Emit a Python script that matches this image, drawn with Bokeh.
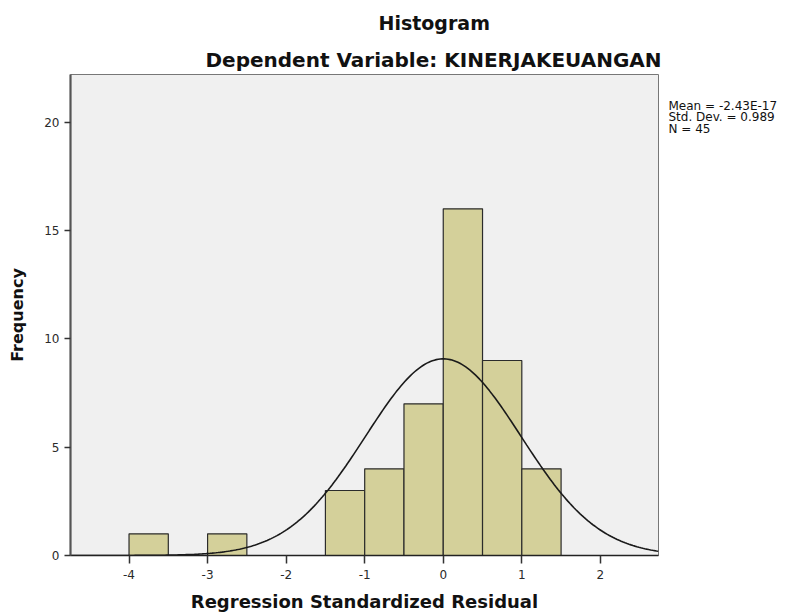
import numpy as np
from bokeh.plotting import figure
from bokeh.layouts import row
from bokeh.models import FixedTicker, Range1d, Title
from bokeh.core.properties import value
from bokeh.embed import file_html
from bokeh.resources import INLINE

# ---- data ----
bin_left = [-4.0, -3.0, -1.5, -1.0, -0.5, 0.0, 0.5, 1.0]
bin_right = [-3.5, -2.5, -1.0, -0.5, 0.0, 0.5, 1.0, 1.5]
counts = [1, 1, 3, 4, 7, 16, 9, 4]
x_ticks = [-4, -3, -2, -1, 0, 1, 2]
x_tick_labels = ["-4", "-3", "-2", "-1", "0", "1", "2"]
y_ticks = [0, 5, 10, 15, 20]
mean_val = -2.43e-17
std_val = 0.989
n_val = 45
bin_width = 0.5
stats = ["Mean = -2.43E-17", "Std. Dev. = 0.989", "N = 45"]

FONT = "DejaVu Sans"
H = 614

p = figure(width=668, height=H, output_backend="svg", toolbar_location=None,
           x_range=Range1d(-4.745, 2.74), y_range=Range1d(0, 22.2),
           min_border_left=70, min_border_right=10, min_border_top=8, min_border_bottom=59)

p.background_fill_color = "#f0f0f0"
p.border_fill_color = "white"
p.outline_line_color = "#777777"
p.outline_line_width = 1
p.grid.visible = False

p.quad(left=bin_left, right=bin_right, bottom=0, top=counts,
       fill_color="#d4d09a", line_color="#2b2b2b", line_width=1.2)

# normal curve from the displayed statistics
xs = np.linspace(-4.745, 2.74, 300)
ys = n_val * bin_width * np.exp(-0.5 * ((xs - mean_val) / std_val) ** 2) / (std_val * np.sqrt(2 * np.pi))
p.line(xs, ys, line_color="#1a1a1a", line_width=1.6)

for ax in (p.xaxis, p.yaxis):
    ax.minor_tick_line_color = None
    ax.major_tick_in = 0
    ax.major_label_text_font = FONT
    ax.major_label_text_font_size = "12px"
    ax.major_label_text_color = "#2a2a2a"
    ax.axis_label_text_font = FONT
    ax.axis_label_text_font_style = "bold"
    ax.axis_label_text_color = "#111111"

p.xaxis.axis_label_text_font_size = "18px"
p.yaxis.axis_label_text_font_size = "16px"
p.xaxis.ticker = FixedTicker(ticks=x_ticks)
p.xaxis.major_label_overrides = {t: s for t, s in zip(x_ticks, x_tick_labels)}
p.yaxis.ticker = FixedTicker(ticks=y_ticks)
p.xaxis.major_tick_out = 8
p.yaxis.major_tick_out = 6
p.xaxis.axis_line_color = "#222222"
p.xaxis.axis_line_width = 1.6
p.yaxis.axis_line_color = "#555555"
p.yaxis.axis_line_width = 2.2
p.xaxis.major_tick_line_color = "#333333"
p.yaxis.major_tick_line_color = "#333333"
p.xaxis.major_tick_line_width = 1.5
p.yaxis.major_tick_line_width = 1.5
p.xaxis.axis_label = "Regression Standardized Residual"
p.yaxis.axis_label = "Frequency"
p.xaxis.major_label_standoff = 6
p.yaxis.major_label_standoff = 5
p.xaxis.axis_label_standoff = 9
p.yaxis.axis_label_standoff = 14

# titles (added above, bottom-most first)
p.add_layout(Title(text="Dependent Variable: KINERJAKEUANGAN", align="left", offset=135,
                   text_font=FONT, text_font_style="bold", text_font_size="20px",
                   text_color="#111111", standoff=6), "above")
p.add_layout(Title(text="Histogram", align="left", offset=308,
                   text_font=FONT, text_font_style="bold", text_font_size="19px",
                   text_color="#111111", standoff=18), "above")

# statistics text in a narrow companion panel on the right
# (its frame is aligned with the main frame, which spans page y 74..555)
p2 = figure(width=120, height=H, output_backend="svg", toolbar_location=None,
            x_range=Range1d(0, 120), y_range=Range1d(555, 74),
            x_axis_type=None, y_axis_type=None,
            min_border_left=0, min_border_right=0, min_border_top=0, min_border_bottom=0)
p2.outline_line_color = None
p2.grid.visible = False
p2.background_fill_color = "white"
p2.border_fill_color = "white"
p2.text(x=[0, 0, 0], y=[105, 116.5, 128], text=stats, text_baseline="middle", text_align="left",
        text_font=value(FONT), text_font_size="12px", text_color="#111111")

layout = row(p, p2, spacing=0)
open("out.html", "w").write(file_html(layout, INLINE))
